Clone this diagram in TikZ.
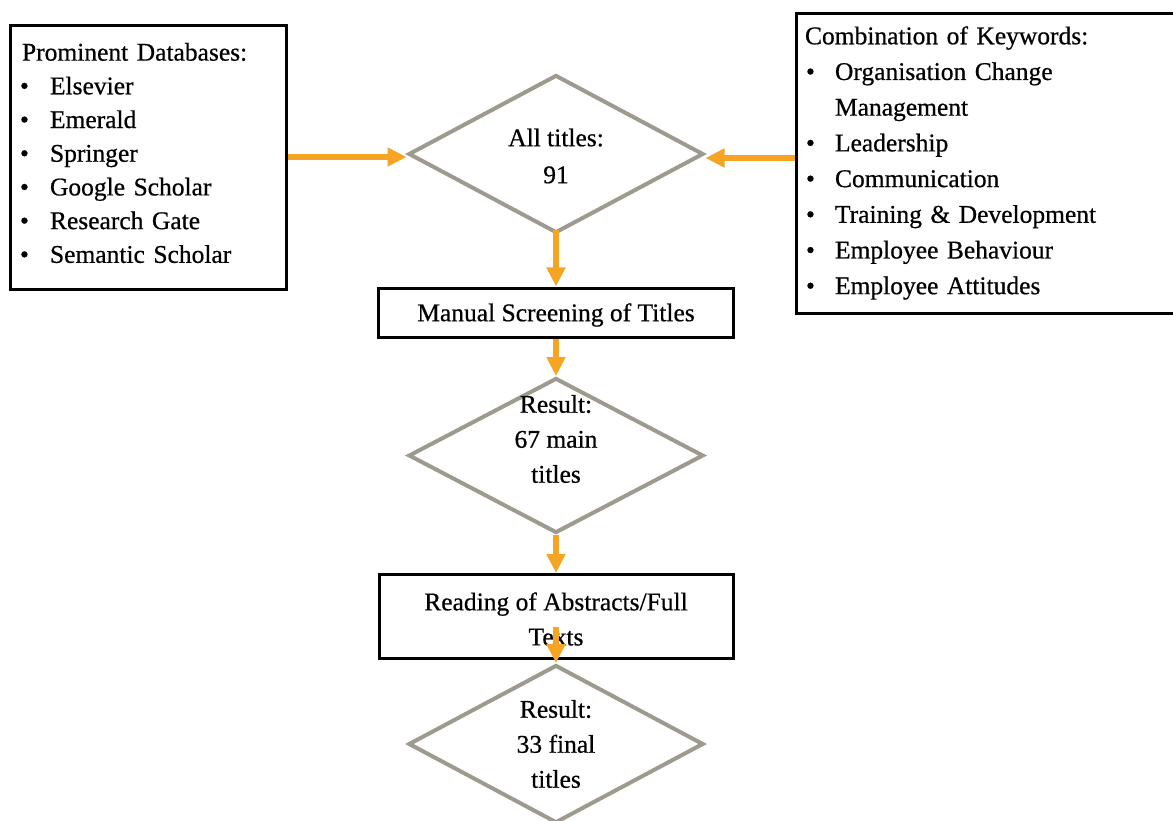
\documentclass[tikz,border=0pt]{standalone}
\usepackage{fontspec}
\setmainfont{Liberation Serif}[FakeBold=0.6]
\usetikzlibrary{arrows.meta,shapes.geometric}
\definecolor{arrorange}{RGB}{245,165,35}
\definecolor{dgray}{RGB}{158,154,144}
\newcommand{\lbul}{\hspace*{-2pt}\makebox[30pt][l]{\textbullet}}
\newcommand{\rbul}{\hspace*{1pt}\makebox[29pt][l]{\textbullet}}
\begin{document}
\begin{tikzpicture}[x=1pt,y=-1pt,
  box/.style={draw=black, line width=3pt, fill=white, inner sep=0pt},
  dia/.style={diamond, draw=dgray, line width=4pt, inner sep=0pt, fill=white},
  flow/.style={draw=arrorange, line width=5.5pt, -{Triangle[length=19pt,width=18pt]}},
  txt/.style={font=\fontsize{25.5}{35}\selectfont, align=center, inner sep=0pt},
  listtxt/.style={align=left, inner sep=0pt}
]
\useasboundingbox (0,0) rectangle (1173,821);
\clip (0,0) rectangle (1173,821);

% left list box
\node[box, anchor=north west, minimum width=276pt, minimum height=264pt] (lb) at (9,24) {};
\node[listtxt, text width=250pt, font=\fontsize{25.5}{33.7}\selectfont] (lbt) at (147,153)
  {Prominent Databases:\\
   \lbul Elsevier\\
   \lbul Emerald\\
   \lbul Springer\\
   \lbul Google Scholar\\
   \lbul Research Gate\\
   \lbul Semantic Scholar};

% right list box (runs off the right edge)
\node[box, anchor=north west, minimum width=395pt, minimum height=300pt] (rb) at (795,12) {};
\node[listtxt, text width=370pt, font=\fontsize{25.5}{35.7}\selectfont] (rbt) at (990,163)
  {Combination of Keywords:\\
   \rbul Organisation Change\\
   \hspace*{30pt}Management\\
   \rbul Leadership\\
   \rbul Communication\\
   \rbul Training \& Development\\
   \rbul Employee Behaviour\\
   \rbul Employee Attitudes};

% diamonds and boxes of the flow
\node[dia, minimum width=295pt, minimum height=158pt] (d1) at (556,154) {};
\node[txt, font=\fontsize{25.5}{37}\selectfont] (d1t) at (556,156) {All titles:\\91};

\node[box, minimum width=355pt, minimum height=49pt] (b1) at (556,312.5) {};
\node[txt] (b1t) at (556,315) {Manual Screening of Titles};

\node[dia, minimum width=295pt, minimum height=155pt] (d2) at (556,455.5) {};
\node[txt] (d2t) at (556,439) {Result:\\67 main\\titles};

\node[box, minimum width=354pt, minimum height=84pt] (b2) at (556,616.5) {};
\node[txt] (b2t) at (556,619) {Reading of Abstracts/Full\\Texts};

\node[dia, minimum width=295pt, minimum height=158pt] (d3) at (556,744) {};
\node[txt] (d3t) at (556,744) {Result:\\33 final\\titles};

\coordinate (tstart) at (556,627);

% connectors
\draw[flow] (lb.east |- 0,157) -- (d1.west |- 0,157);
\draw[flow] (rb.west |- 0,158) -- (d1.east |- 0,158);
\draw[flow] ([yshift=5pt]d1.south) -- (b1.north);
\draw[flow] (b1.south) -- (d2.north);
\draw[flow] (d2.south) -- (b2.north);
\draw[flow] (tstart) -- (d3.north);
\end{tikzpicture}
\end{document}
